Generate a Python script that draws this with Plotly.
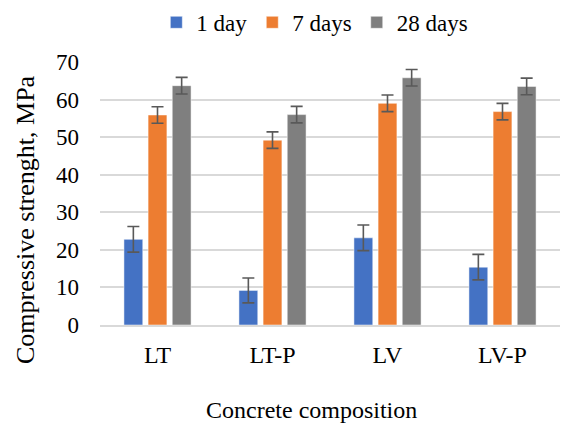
import plotly.graph_objects as go

categories = ["LT", "LT-P", "LV", "LV-P"]
series_names = ["1 day", "7 days", "28 days"]
day1 = [22.8, 9.2, 23.2, 15.4]
day7 = [55.9, 49.2, 59.0, 56.8]
day28 = [63.7, 56.0, 65.8, 63.5]
err1 = [3.4, 3.3, 3.4, 3.4]
err7 = [2.2, 2.2, 2.2, 2.2]
err28 = [2.2, 2.2, 2.2, 2.2]
colors = ["#4472C4", "#ED7D31", "#7F7F7F"]

FONT = "Liberation Serif"

fig = go.Figure()
for name, vals, errs, col in zip(series_names, [day1, day7, day28], [err1, err7, err28], colors):
    fig.add_trace(go.Bar(
        x=categories, y=vals, name=name,
        marker=dict(color=col, line=dict(color="white", width=0.5)),
        error_y=dict(type="data", array=errs, visible=True, color="#595959", thickness=1.6, width=6),
    ))

fig.update_layout(
    width=566, height=423,
    margin=dict(l=100, r=6, t=62, b=98, autoexpand=False),
    paper_bgcolor="white", plot_bgcolor="white",
    font=dict(family=FONT, size=24, color="#000000"),
    barmode="group", bargap=0.37, bargroupgap=0.22,
    legend=dict(orientation="h", x=0.467, xanchor="center", y=0.998, yanchor="top",
                yref="container", font=dict(family=FONT, size=23), itemwidth=30, traceorder="normal"),
    xaxis=dict(
        showgrid=False, showline=True, linecolor="#d9d9d9", linewidth=1.5,
        ticks="", tickfont=dict(family=FONT, size=24), ticklabelstandoff=7,
    ),
    yaxis=dict(
        range=[0, 70], dtick=10, showgrid=True, gridcolor="#d9d9d9", gridwidth=1.5,
        zeroline=False, showline=False, ticks="", ticklabelstandoff=20,
        tickfont=dict(family=FONT, size=23),
    ),
    annotations=[
        dict(text="Compressive strenght, MPa", textangle=-90, showarrow=False,
             xref="paper", yref="paper", x=(25 - 100) / 460, y=(325 - 220) / 263,
             xanchor="center", yanchor="middle", font=dict(family=FONT, size=26)),
        dict(text="Concrete composition", showarrow=False,
             xref="paper", yref="paper", x=(311 - 100) / 460, y=(325 - 410) / 263,
             xanchor="center", yanchor="middle", font=dict(family=FONT, size=24)),
    ],
)

fig.write_html("out.html", config={"displayModeBar": False},
               post_script="document.body.style.margin='0';document.body.style.padding='0';")
